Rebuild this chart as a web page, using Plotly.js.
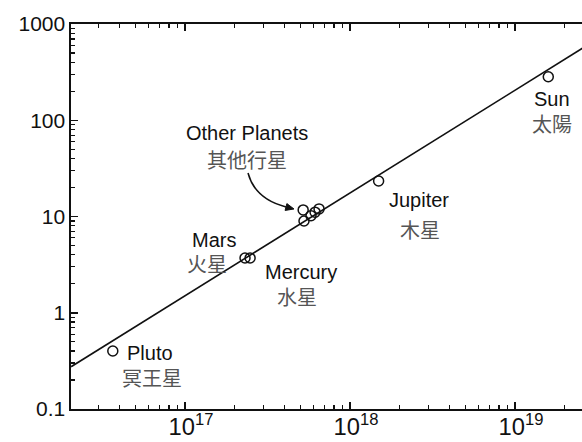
<!DOCTYPE html>
<html>
<head>
<meta charset="utf-8">
<script src="https://cdn.plot.ly/plotly-3.0.1.min.js"></script>
<style>
html,body{margin:0;padding:0;overflow:hidden;background:#fff;}
#chart{width:586px;height:442px;}
</style>
</head>
<body>
<div id="chart"></div>
<script>
// Data
const bodyNames = ['Pluto', 'Mars', 'Mercury', 'Venus', 'Earth', 'Neptune', 'Uranus', 'Saturn', 'Jupiter', 'Sun'];
const bodyX = [3.65e16, 2.31e17, 2.48e17, 5.2e17, 5.26e17, 5.8e17, 6.14e17, 6.49e17, 1.49e18, 1.59e19];
const bodyY = [0.40, 3.71, 3.71, 11.7, 8.97, 10.2, 11.1, 12.0, 23.4, 283];

const fitX = [2.04e16, 2.69e19];
const fitY = [0.275, 590];

const labelEn = ['Other Planets', 'Sun', 'Jupiter', 'Mars', 'Mercury', 'Pluto'];
const labelZh = ['其他行星', '太陽', '木星', '火星', '水星', '冥王星'];
const labelEnX = [17.376, 19.224, 18.418, 17.176, 17.703, 16.788];
const labelEnY = [1.868, 2.221, 1.171, 0.760, 0.428, -0.418];
const labelZhX = [17.376, 19.226, 18.421, 17.133, 17.679, 16.800];
const labelZhY = [1.597, 1.971, 0.860, 0.512, 0.169, -0.668];

const xRangeLog = [16.309, 19.43];
const yRangeLog = [-1, 3];

const enFont = {family: '"Liberation Sans", Arial, sans-serif', size: 20, color: '#111'};
const zhFont = {family: '"Noto Sans CJK TC", "Noto Sans CJK SC", sans-serif', size: 20, color: '#555'};

const annotations = [];
labelEn.forEach((t, i) => {
  annotations.push({x: labelEnX[i], y: labelEnY[i], xref: 'x', yref: 'y', text: t,
    showarrow: false, font: enFont, xanchor: 'center', yanchor: 'middle', borderpad: 0});
  annotations.push({x: labelZhX[i], y: labelZhY[i], xref: 'x', yref: 'y', text: labelZh[i],
    showarrow: false, font: zhFont, xanchor: 'center', yanchor: 'middle', borderpad: 0});
});

const traces = [
  {x: fitX, y: fitY, mode: 'lines', line: {color: '#111', width: 1.6}, hoverinfo: 'skip'},
  {x: bodyX, y: bodyY, text: bodyNames, mode: 'markers',
   marker: {symbol: 'circle-open', size: 10, color: '#111', line: {width: 1.5, color: '#111'}}}
];

const tickFont = {family: '"Liberation Sans", Arial, sans-serif', size: 21, color: '#111'};
const axisCommon = {
  type: 'log', showgrid: false, zeroline: false, showline: true, linecolor: '#111', linewidth: 1.6,
  ticks: 'inside', ticklen: 7, tickwidth: 1.5, tickcolor: '#111', dtick: 1,
  tickfont: tickFont,
  minor: {ticks: 'inside', ticklen: 4, tickwidth: 1.2, tickcolor: '#111', dtick: 'D1', showgrid: false}
};

const layout = {
  width: 586, height: 442,
  margin: {l: 71, r: 0, t: 24, b: 33},
  paper_bgcolor: '#fff', plot_bgcolor: '#fff',
  showlegend: false,
  xaxis: Object.assign({}, axisCommon, {range: xRangeLog, exponentformat: 'power', mirror: 'ticks',
    tickfont: Object.assign({}, tickFont, {size: 19}), ticklabelstandoff: -3, ticklabelshift: 6}),
  yaxis: Object.assign({}, axisCommon, {range: yRangeLog, exponentformat: 'none', mirror: false}),
  shapes: [
    {type: 'path', xref: 'paper', yref: 'paper',
     path: 'M 0.3437 0.613 Q 0.3573 0.545 0.4175 0.5247',
     line: {color: '#111', width: 1.5}},
    {type: 'path', xref: 'paper', yref: 'paper',
     path: 'M 0.4330 0.5195 L 0.4157 0.5158 L 0.4192 0.5335 Z',
     fillcolor: '#111', line: {color: '#111', width: 1}}
  ],
  annotations: annotations
};

Plotly.newPlot('chart', traces, layout, {displayModeBar: false, staticPlot: true});
</script>
</body>
</html>
